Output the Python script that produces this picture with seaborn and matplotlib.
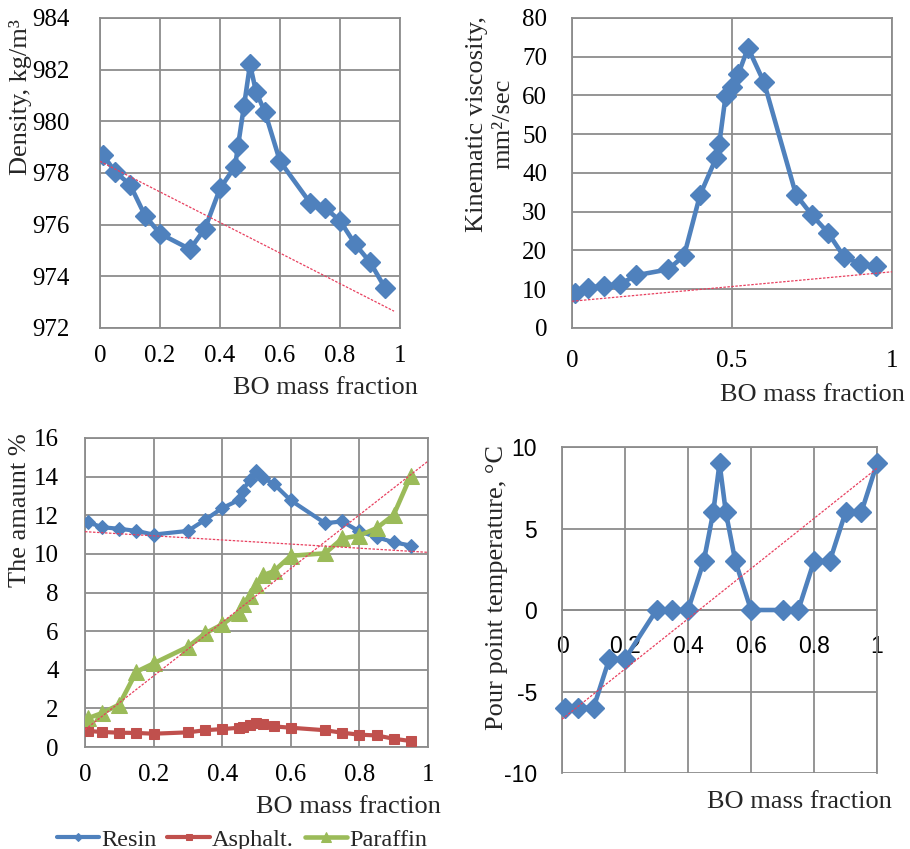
import matplotlib
matplotlib.use("Agg")
import matplotlib.pyplot as plt
import seaborn as sns
import pandas as pd

# BO mass fraction of the blends
bo_fraction = [0.01, 0.05, 0.1, 0.15, 0.2, 0.3, 0.35, 0.4, 0.45, 0.46, 0.48,
               0.5, 0.52, 0.55, 0.6, 0.7, 0.75, 0.8, 0.85, 0.9, 0.95]

density = [978.7, 978.05, 977.55, 976.35, 975.65, 975.05, 975.85, 977.4, 978.25,
           979.05, 980.6, 982.2, 981.15, 980.35, 978.45, 976.85, 976.65, 976.15,
           975.25, 974.55, 973.55]

viscosity = [8.9, 10.4, 10.9, 11.3, 13.6, 15.1, 18.6, 34.3, 43.8, 47.4, 59.9,
             62.2, 65.6, 72.3, 63.4, 34.4, 29.1, 24.6, 18.4, 16.5, 15.9]

resin = [11.63, 11.38, 11.3, 11.19, 11.0, 11.19, 11.76, 12.37, 12.8, 13.27, 13.84,
         14.3, 13.93, 13.63, 12.77, 11.59, 11.68, 11.16, 10.87, 10.6, 10.43]
asphalt = [0.83, 0.78, 0.74, 0.73, 0.69, 0.76, 0.87, 0.93, 1.0, 1.04, 1.15,
           1.25, 1.18, 1.07, 1.0, 0.87, 0.74, 0.64, 0.6, 0.43, 0.31]
paraffin = [1.5, 1.76, 2.2, 3.9, 4.33, 5.19, 5.88, 6.35, 6.96, 7.4, 7.8,
            8.4, 8.9, 9.1, 9.9, 10.03, 10.8, 10.95, 11.33, 12.02, 14.05]

pour_fraction = [0.01, 0.05, 0.1, 0.15, 0.2, 0.3, 0.35, 0.4, 0.45, 0.48, 0.5,
                 0.52, 0.55, 0.6, 0.7, 0.75, 0.8, 0.85, 0.9, 0.95, 1.0]
pour_point = [-6, -6, -6, -3, -3, 0, 0, 0, 3, 6, 9, 6, 3, 0, 0, 0, 3, 3, 6, 6, 9]

# Linear trend lines (end points)
density_trend_x = [0.0, 0.98]
density_trend_y = [978.45, 972.65]
viscosity_trend_x = [0.0, 1.0]
viscosity_trend_y = [6.9, 14.5]
resin_trend_x = [0.0, 1.0]
resin_trend_y = [11.15, 10.08]
paraffin_trend_x = [0.0, 1.0]
paraffin_trend_y = [0.9, 14.8]
pour_trend_x = [0.0, 1.0]
pour_trend_y = [-6.7, 8.7]

density_ticks = [972, 974, 976, 978, 980, 982, 984]
viscosity_ticks = [0, 10, 20, 30, 40, 50, 60, 70, 80]
amount_ticks = [0, 2, 4, 6, 8, 10, 12, 14, 16]
pour_ticks = [-10, -5, 0, 5, 10]
fraction_ticks = [0, 0.2, 0.4, 0.6, 0.8, 1]
fraction_labels = ["0", "0.2", "0.4", "0.6", "0.8", "1"]
half_ticks = [0, 0.5, 1]
half_labels = ["0", "0.5", "1"]

BLUE = "#4F81BD"
RED = "#C0504D"
GREEN = "#9BBB59"
TREND = "#E8405F"
GRID = "#8C8C8C"

sns.set_theme(style="white")
plt.rcParams["font.family"] = ["Liberation Serif", "DejaVu Serif"]
plt.rcParams["axes.unicode_minus"] = False

fig = plt.figure(figsize=(9.1, 8.49), dpi=100)
ax1 = fig.add_axes([0.1099, 0.6137, 0.3297, 0.3651])
ax2 = fig.add_axes([0.6286, 0.6137, 0.3516, 0.3651])
ax3 = fig.add_axes([0.0934, 0.1201, 0.3769, 0.3640])
ax4 = fig.add_axes([0.6176, 0.0895, 0.3462, 0.3840])

TICK_FS = 18
LABEL_FS = 19


def style_axes(ax, xticks, xlabels, yticks, ylim, ypad):
    ax.set_xlim(0, 1)
    ax.set_ylim(*ylim)
    ax.set_xticks(xticks)
    ax.set_xticklabels(xlabels)
    ax.set_yticks(yticks)
    ax.grid(True, color=GRID, linewidth=1.3)
    ax.set_axisbelow(True)
    for sp in ax.spines.values():
        sp.set_color(GRID)
        sp.set_linewidth(1.3)
    ax.tick_params(axis="both", which="major", direction="out", length=5,
                   width=1.3, color=GRID, labelsize=TICK_FS, labelcolor="black")
    ax.tick_params(axis="x", pad=7)
    ax.tick_params(axis="y", pad=ypad)


def trend(ax, xs, ys):
    sns.lineplot(x=xs, y=ys, ax=ax, color=TREND, linewidth=0.9,
                 linestyle=(0, (2, 1.2)), zorder=4)


def blue_series(ax, xs, ys, clip=True):
    sns.lineplot(x=xs, y=ys, ax=ax, color=BLUE, linewidth=3.3, marker="D",
                 markersize=10, markeredgecolor=BLUE, markeredgewidth=1,
                 zorder=3, clip_on=clip)


def place_xlabel(ax, x, y):
    ax.set_xlabel("BO mass fraction", fontsize=LABEL_FS)
    ax.xaxis.set_label_coords(x, y)
    ax.xaxis.label.set_ha("right")
    ax.xaxis.label.set_va("center")


# Density
blue_series(ax1, bo_fraction, density)
trend(ax1, density_trend_x, density_trend_y)
style_axes(ax1, fraction_ticks, fraction_labels, density_ticks, (972, 984), 17)
place_xlabel(ax1, 1.06, -0.194)
ax1.set_ylabel("Density, kg/m³", fontsize=LABEL_FS)
ax1.yaxis.set_label_coords(-0.266, 0.745)
ax1.yaxis.label.set_va("center")

# Kinematic viscosity
blue_series(ax2, bo_fraction, viscosity)
trend(ax2, viscosity_trend_x, viscosity_trend_y)
style_axes(ax2, half_ticks, half_labels, viscosity_ticks, (0, 80), 13)
ax2.tick_params(axis="x", pad=11)
place_xlabel(ax2, 1.04, -0.216)
ax2.set_ylabel("Kinematic viscosity,\nmm²/sec", fontsize=LABEL_FS,
               linespacing=1.25, ha="center")
ax2.yaxis.set_label_coords(-0.257, 0.658)
ax2.yaxis.label.set_va("center")

# Group composition
comp = pd.DataFrame({"x": bo_fraction, "Resin": resin,
                     "Asphalt.": asphalt, "Paraffin": paraffin})
sns.lineplot(data=comp, x="x", y="Resin", ax=ax3, color=BLUE, linewidth=3,
             marker="D", markersize=7, markeredgecolor=BLUE, label="Resin", zorder=3)
sns.lineplot(data=comp, x="x", y="Asphalt.", ax=ax3, color=RED, linewidth=3,
             marker="s", markersize=7, markeredgecolor=RED, label="Asphalt.", zorder=3)
sns.lineplot(data=comp, x="x", y="Paraffin", ax=ax3, color=GREEN, linewidth=3.3,
             marker="^", markersize=12, markeredgecolor=GREEN, label="Paraffin", zorder=3)
trend(ax3, resin_trend_x, resin_trend_y)
trend(ax3, paraffin_trend_x, paraffin_trend_y)
style_axes(ax3, fraction_ticks, fraction_labels, amount_ticks, (0, 16), 14)
place_xlabel(ax3, 1.038, -0.194)
ax3.set_ylabel("The amaunt %", fontsize=LABEL_FS)
ax3.yaxis.set_label_coords(-0.19, 0.767)
ax3.yaxis.label.set_va("center")
handles, labels = ax3.get_legend_handles_labels()
ax3.legend(handles[:3], labels[:3], loc="center left", bbox_to_anchor=(-0.083, -0.3),
           ncol=3, frameon=False, fontsize=17.5, handlelength=1.75,
           handletextpad=0.08, columnspacing=0.45, borderaxespad=0, borderpad=0,
           markerscale=0.6)

# Pour point
blue_series(ax4, pour_fraction, pour_point, clip=False)
trend(ax4, pour_trend_x, pour_trend_y)
style_axes(ax4, fraction_ticks, fraction_labels, pour_ticks, (-10, 10), 13)
ax4.spines["bottom"].set_position(("data", 0))
for lab in ax4.get_xticklabels() + ax4.get_yticklabels():
    lab.set_family(["Liberation Sans", "DejaVu Sans"])
    lab.set_fontsize(16.5)
ax4.tick_params(axis="x", pad=13)
place_xlabel(ax4, 1.048, -0.089)
ax4.set_ylabel("Pour point temperature, °C", fontsize=LABEL_FS)
ax4.yaxis.set_label_coords(-0.206, 0.57)
ax4.yaxis.label.set_va("center")

fig.savefig("out.png", dpi=100)
